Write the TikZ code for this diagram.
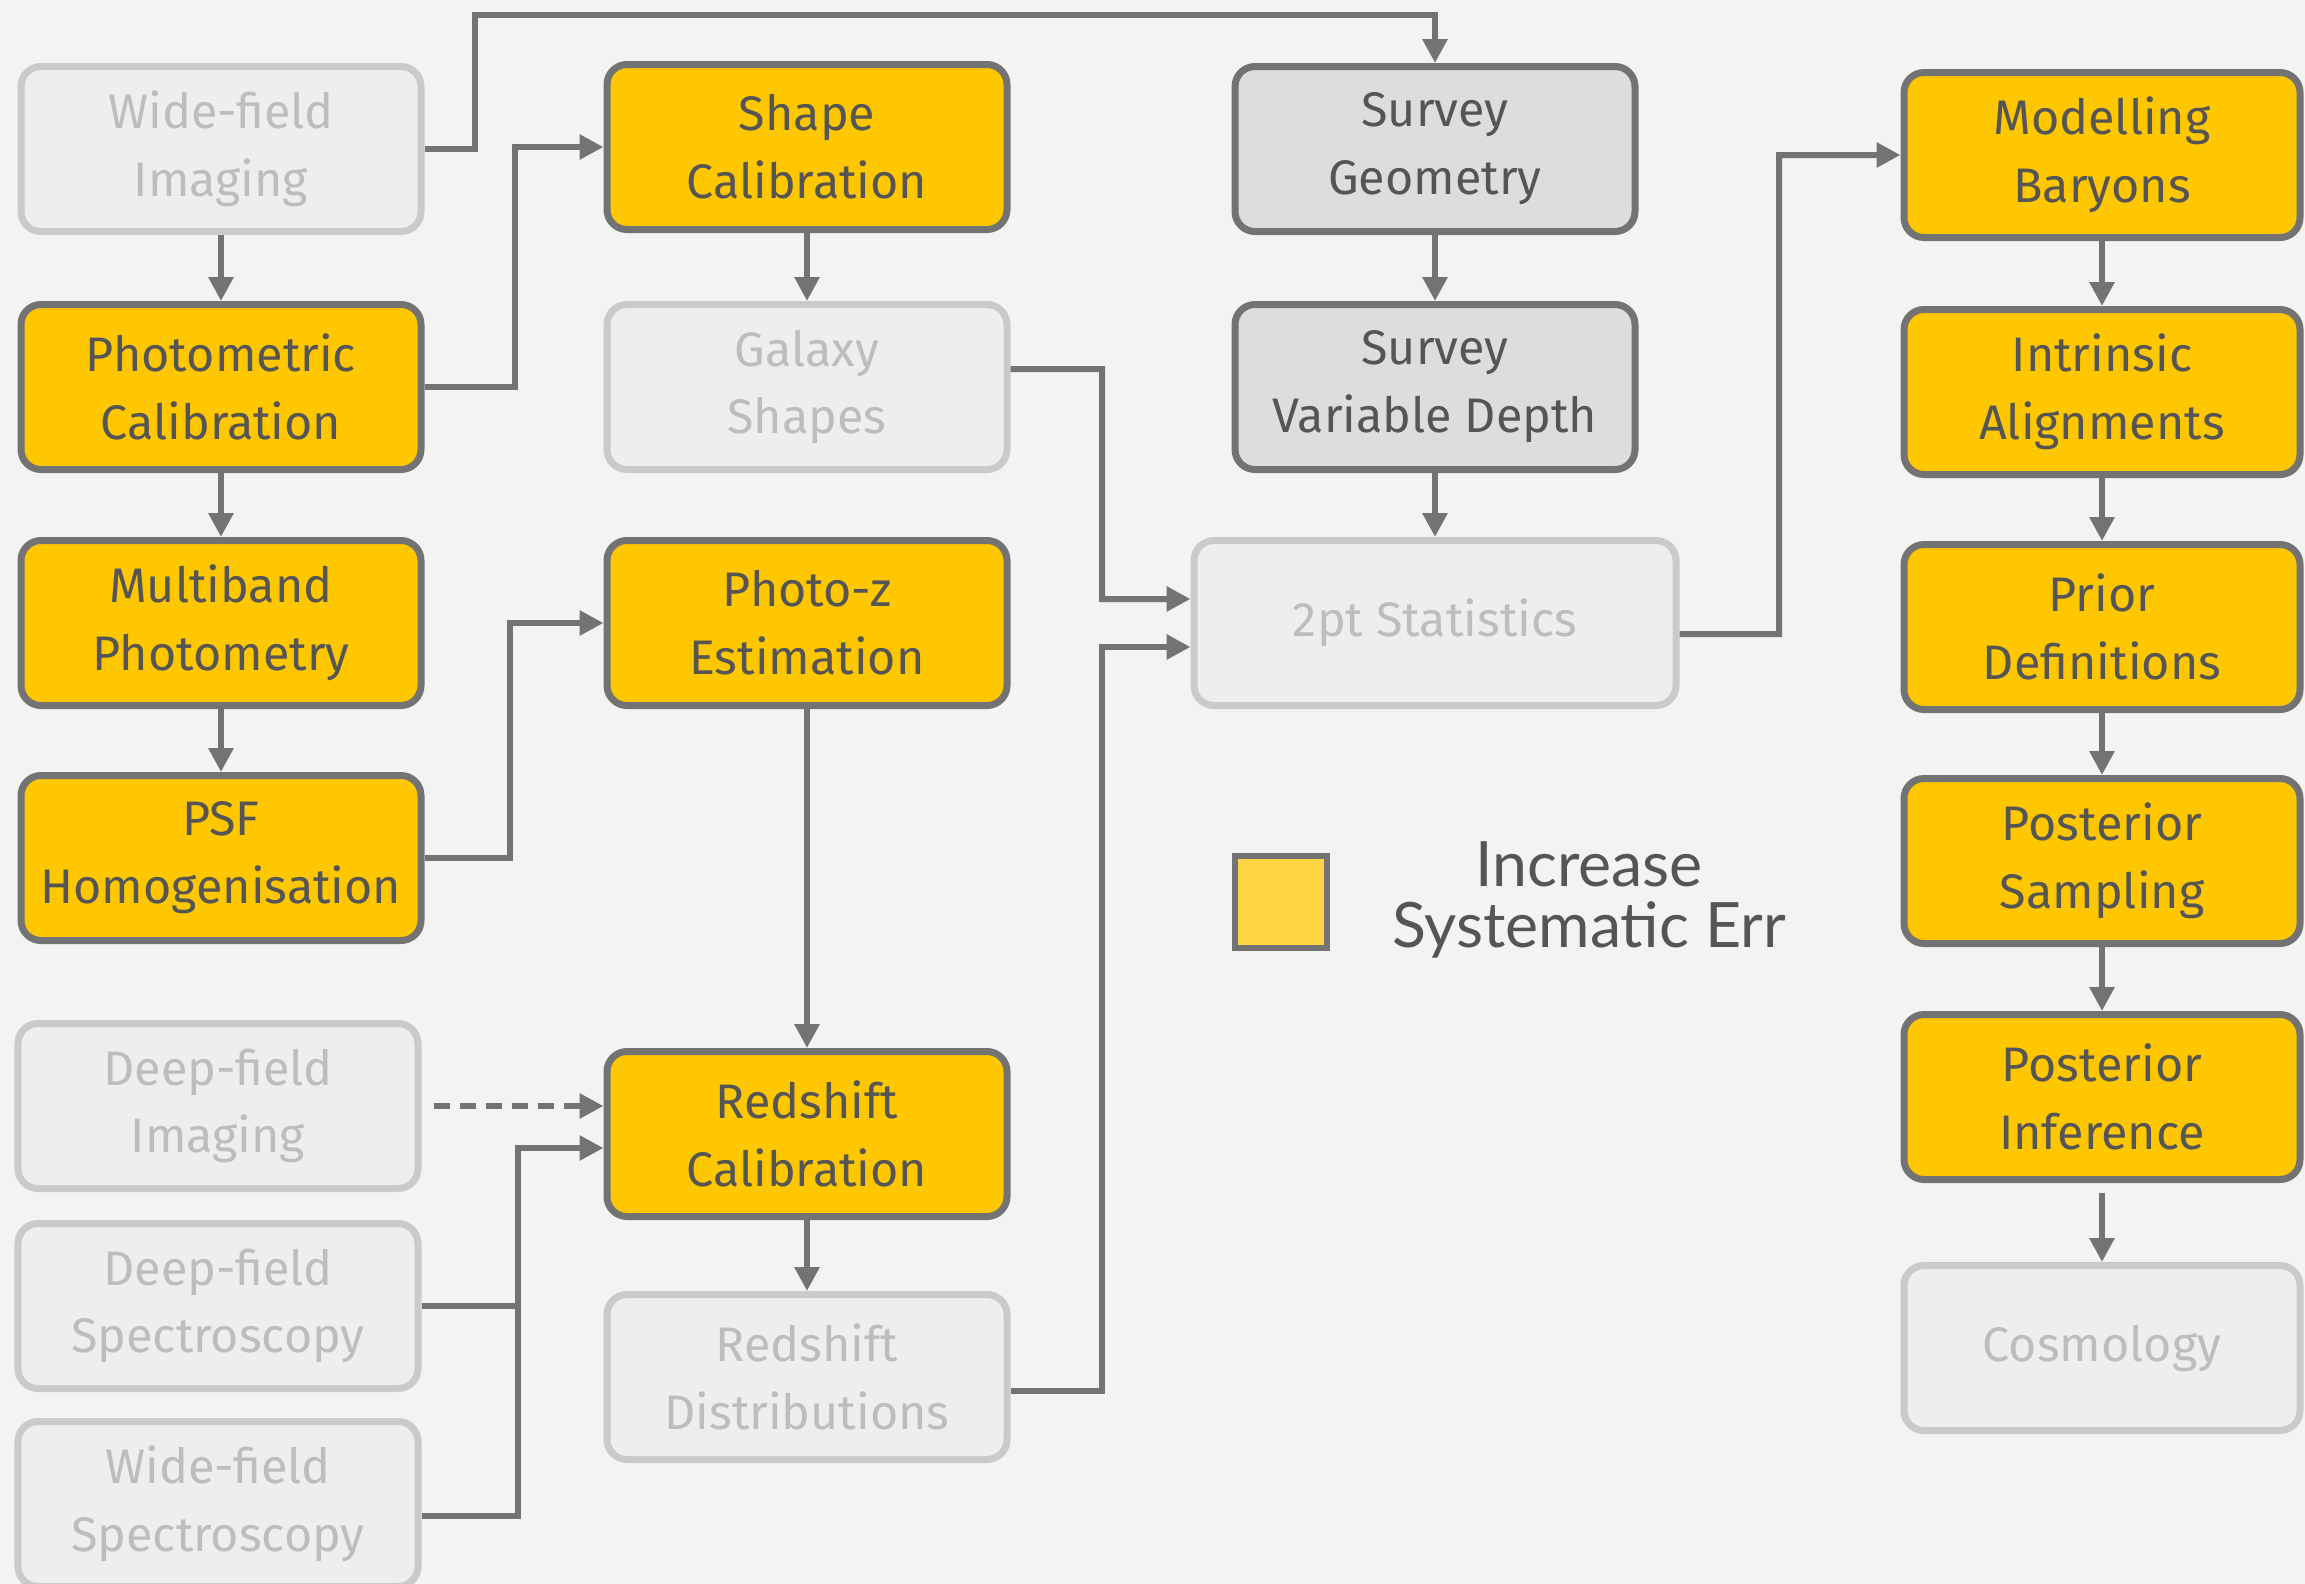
\documentclass[tikz,border=0pt]{standalone}
\usepackage{fontspec}
\setmainfont{Fira Sans}
\newfontfamily\legendfont{Lato}
\usetikzlibrary{arrows.meta,positioning}

\definecolor{paper}{HTML}{F3F3F1}
\definecolor{wire}{HTML}{737373}
\definecolor{gold}{HTML}{FFC700}
\definecolor{ink}{HTML}{555555}
\definecolor{ghost}{HTML}{EEEEEC}
\definecolor{ghostline}{HTML}{CACACA}
\definecolor{ghostink}{HTML}{BDBDBD}
\definecolor{mist}{HTML}{DDDDDD}
\definecolor{legendgold}{HTML}{FCD444}

\begin{document}
\begin{tikzpicture}[->,>={Triangle[length=0.24cm,width=0.24cm]},line width=0.06cm,draw=wire,
                    box/.style={rectangle,rounded corners=0.2cm,line width=0.07cm,minimum width=4cm,
                                minimum height=1.65cm,align=center,font=\fontsize{13.8}{19.3}\selectfont},
                    hot/.style={box,draw=wire,fill=gold,text=ink},
                    faint/.style={box,draw=ghostline,fill=ghost,text=ghostink},
                    survey/.style={box,draw=wire,fill=mist,text=ink}]

\fill[paper] (0,0) rectangle (23.05,-15.84);
\useasboundingbox (0,0) rectangle (23.05,-15.84);

\node[faint] (1) at(2.21,-1.49) {Wide-field\\Imaging};
\node[hot] (2) at(2.21,-3.87) {Photometric\\Calibration};
\node[hot] (3) at(2.21,-6.23) {Multiband\\Photometry};
\node[hot] (4) at(2.21,-8.58) {PSF\\Homogenisation};
\node[faint] (5) at(2.18,-11.06) {Deep-field\\Imaging};
\node[faint] (6) at(2.18,-13.06) {Deep-field\\Spectroscopy};
\node[faint] (7) at(2.18,-15.04) {Wide-field\\Spectroscopy};

\node[hot] (8) at(8.07,-1.47) {Shape\\Calibration};
\node[faint] (9) at(8.07,-3.87) {Galaxy\\Shapes};
\node[hot] (10) at(8.07,-6.23) {Photo-z\\Estimation};
\node[hot] (11) at(8.07,-11.34) {Redshift\\Calibration};
\node[faint] (12) at(8.07,-13.77) {Redshift\\Distributions};

\node[survey] (13) at(14.35,-1.49) {Survey\\Geometry};
\node[survey] (14) at(14.35,-3.87) {Survey\\Variable Depth};
\node[faint,minimum width=4.82cm] (15) at(14.35,-6.23) {2pt Statistics};

\node[hot,minimum width=3.96cm] (16) at(21.02,-1.55) {Modelling\\Baryons};
\node[hot,minimum width=3.96cm] (17) at(21.02,-3.92) {Intrinsic\\Alignments};
\node[hot,minimum width=3.96cm] (18) at(21.02,-6.27) {Prior\\Definitions};
\node[hot,minimum width=3.96cm] (19) at(21.02,-8.61) {Posterior\\Sampling};
\node[hot,minimum width=3.96cm] (20) at(21.02,-10.97) {Posterior\\Inference};
\node[faint,minimum width=3.96cm] (21) at(21.02,-13.48) {Cosmology};

\node[draw=wire,fill=legendgold,line width=0.06cm,minimum size=0.92cm] (22) at(12.81,-9.02) {};
\node[text=ink,align=center,font=\legendfont\fontsize{17.8}{17.6}\selectfont] (23) at(15.89,-9.0) {Increase\\Systematic Err};

\coordinate (join) at(5.18,-13.06);


\draw[wire]
(1) edge (2)
(2) edge (3)
(3) edge (4)

(8) edge (9)
(10) edge (11)
(11) edge (12)

(13) edge (14)
(14) edge (15)

(16) edge (17)
(17) edge (18)
(18) edge (19)
(19) edge (20)
(20) edge[shorten <=0.1cm] (21)
;

\draw[wire,dash pattern=on 0.16cm off 0.1cm,shorten <=0.12cm] (5.east) -- (5.east -| 11.west);
\draw[wire] (1.east) -| (4.75,-0.15) -| (13.north);
\draw[wire] (2.east) -- (5.15,-3.87) |- (8.west);
\draw[wire] (4.east) -- (5.10,-8.58) |- (10.west);
\draw[wire] ([yshift=0.18cm]9.east) -| (11.02,-5.99) -- ([yshift=0.24cm]15.west);
\draw[wire] ([yshift=-0.14cm]12.east) -| (11.02,-6.47) -- ([yshift=-0.24cm]15.west);
\draw[wire] (6.east) -- (join) |- ([yshift=-0.14cm]11.west);
\draw[wire,-] ([yshift=-0.12cm]7.east) -| (join);
\draw[wire] ([yshift=-0.11cm]15.east) -- (17.79,-6.34) |- (16.west);

\end{tikzpicture}
\end{document}
